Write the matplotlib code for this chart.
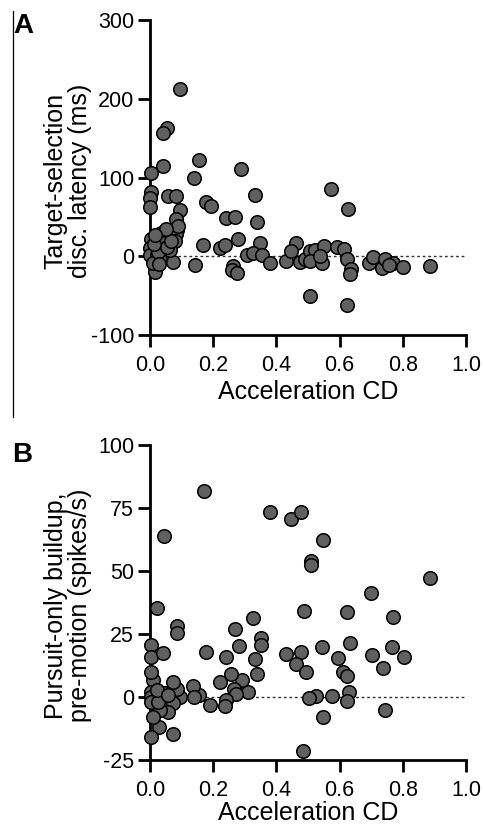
import numpy as np
import matplotlib
matplotlib.use("Agg")
import matplotlib.pyplot as plt
from matplotlib.lines import Line2D

plt.rcParams['font.family'] = ['Liberation Sans', 'DejaVu Sans']
plt.rcParams['axes.unicode_minus'] = False

# Panel A: acceleration CD vs target-selection discrimination latency (ms)
xA = [0.096, 0.053, 0.042, 0.040, 0.002, 0.156, 0.140, 0.287, 0.003, 0.001,
      0.000, 0.056, 0.081, 0.095, 0.082, 0.084, 0.083, 0.079, 0.176, 0.192,
      0.333, 0.340, 0.240, 0.268, 0.573, 0.628, 0.002, 0.000, 0.035, 0.047,
      0.000, 0.021, 0.032, 0.016, 0.016, 0.072, 0.063, 0.168, 0.222, 0.237,
      0.280, 0.349, 0.306, 0.325, 0.143, 0.263, 0.258, 0.274, 0.354, 0.380,
      0.429, 0.461, 0.445, 0.475, 0.490, 0.506, 0.522, 0.506, 0.543, 0.551,
      0.538, 0.593, 0.615, 0.622, 0.635, 0.633, 0.506, 0.622, 0.694, 0.705,
      0.735, 0.743, 0.770, 0.801, 0.886, 0.757, 0.010, 0.025, 0.055, 0.065,
      0.012, 0.030, 0.088, 0.052, 0.015]
yA = [212, 163, 156, 114, 106, 122, 100, 111, 82, 74,
      63, 77, 76, 59, 47, 33, 28, 20, 69, 64,
      78, 44, 48, 50, 85, 60, 22, 10, 29, 17,
      1, 1, -3, -14, -20, -7, 8, 14, 11, 14,
      22, 17, 1, 4, -11, -12, -17, -21, 1, -9,
      -6, 17, 7, -7, -3, 7, 8, -6, -8, 13,
      0, 12, 9, -3, -16, -22, -51, -62, -8, -1,
      -15, -3, -8, -14, -13, -11, -8, 5, 12, 20,
      15, -10, 39, 35, 27]

# Panel B: acceleration CD vs pursuit-only buildup, pre-motion (spikes/s)
xB = [0.171, 0.380, 0.446, 0.477, 0.546, 0.044, 0.509, 0.509, 0.886, 0.698,
      0.488, 0.622, 0.770, 0.021, 0.327, 0.086, 0.086, 0.269, 0.351, 0.351,
      0.281, 0.002, 0.002, 0.040, 0.177, 0.240, 0.332, 0.338, 0.430, 0.477,
      0.462, 0.494, 0.543, 0.633, 0.594, 0.610, 0.624, 0.631, 0.624, 0.703,
      0.767, 0.805, 0.736, 0.744, 0.575, 0.525, 0.504, 0.549, 0.483, 0.311,
      0.290, 0.255, 0.267, 0.272, 0.222, 0.240, 0.237, 0.190, 0.156, 0.137,
      0.139, 0.095, 0.084, 0.074, 0.074, 0.058, 0.072, 0.047, 0.032, 0.030,
      0.011, 0.002, 0.011, 0.002, 0.002, 0.002, 0.002, 0.026, 0.021, 0.058]
yB = [81.6, 73.3, 70.8, 73.4, 62.2, 63.8, 53.9, 52.4, 47.1, 41.4,
      34.2, 33.9, 31.8, 35.5, 31.3, 28.3, 25.3, 27.0, 23.3, 20.8,
      20.4, 20.8, 15.8, 17.6, 17.7, 15.9, 15.1, 9.2, 17.1, 17.8,
      12.9, 10.1, 19.7, 21.4, 15.5, 9.9, 8.2, 2.0, -1.6, 16.7,
      19.7, 15.8, 11.6, -5.0, 0.3, 0.4, -0.3, -7.9, -21.4, 2.1,
      6.7, 9.0, 3.1, 1.3, 5.8, -1.2, -3.6, -3.2, 0.8, 4.4,
      0.0, 0.1, 3.3, 6.1, -2.5, -6.0, -14.5, 1.6, -5.2, -11.8,
      -8.0, -15.8, 6.7, 10.0, 2.1, 0.1, -1.9, -1.9, 2.6, 0.7]

xticks = [0.0, 0.2, 0.4, 0.6, 0.8, 1.0]
yticksA = [-100, 0, 100, 200, 300]
yticksB = [-25, 0, 25, 50, 75, 100]

W, H = 483, 827
fig = plt.figure(figsize=(W / 100, H / 100), dpi=100)

def px_axes(left, top, right, bottom):
    return fig.add_axes([left / W, 1 - bottom / H, (right - left) / W, (bottom - top) / H])

axA = px_axes(150, 20, 466, 335)
axB = px_axes(150, 445, 466, 760)

def style(ax, x, y, ylim, yticks, ylabel, xlabelpad):
    ax.axhline(0, xmin=0, xmax=1, color='#333333', lw=1.0, ls=(0, (2, 2)), zorder=1)
    ax.scatter(x, y, s=95, facecolor='#606060', edgecolor='black', linewidth=1.1,
               zorder=3, clip_on=False)
    ax.set_xlim(0, 1)
    ax.set_ylim(*ylim)
    ax.set_xticks(xticks)
    ax.set_xticklabels([f"{t:.1f}" for t in xticks])
    ax.set_yticks(yticks)
    for s in ['top', 'right']:
        ax.spines[s].set_visible(False)
    for s in ['left', 'bottom']:
        ax.spines[s].set_linewidth(2.0)
    ax.tick_params(width=2.0, length=8.5, labelsize=15.5, direction='out')
    ax.tick_params(axis='x', pad=6)
    ax.tick_params(axis='y', pad=3)
    ax.set_xlabel('Acceleration CD', fontsize=18, labelpad=xlabelpad)
    ax.set_ylabel(ylabel, fontsize=18, linespacing=1.0)
    ax.yaxis.set_label_coords(-0.185, 0.49)

style(axA, xA, yA, (-100, 300), yticksA, 'Target-selection\ndisc. latency (ms)', 3)
style(axB, xB, yB, (-25, 100), yticksB, 'Pursuit-only buildup,\npre-motion (spikes/s)', 0)

fig.text(13 / W, 1 - 33 / H, 'A', fontsize=20, fontweight='bold', ha='left', va='baseline')
fig.text(12 / W, 1 - 462 / H, 'B', fontsize=20, fontweight='bold', ha='left', va='baseline')

# thin frame line on the left of panel A
fig.add_artist(Line2D([12.5 / W, 12.5 / W], [1 - 11 / H, 1 - 417 / H], color='black', lw=0.9))

fig.savefig('out.png', dpi=100)
